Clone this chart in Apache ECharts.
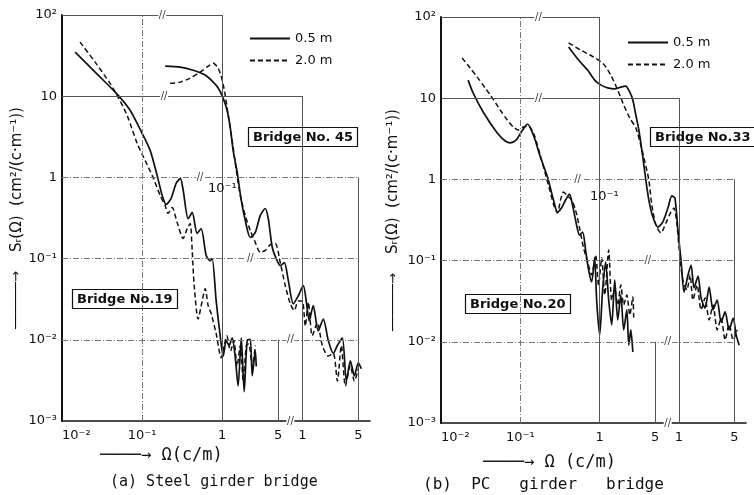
<!DOCTYPE html>
<html><head><meta charset="utf-8">
<script src="https://cdn.jsdelivr.net/npm/echarts@6/dist/echarts.min.js"></script>
<style>html,body{margin:0;padding:0;background:#fff}#c{width:754px;height:495px}</style>
</head><body><div id="c"></div>
<script>
// ---- tick values / labels ----
const xTicksA = [0.01, 0.1, 1, 5];
const xTickLabelsA = ['10⁻²', '10⁻¹', '1', '5'];
const xTicksB = [1, 5];
const xTickLabelsB = ['1', '5'];
const yTicks = [0.001, 0.01, 0.1, 1, 10, 100];
const yTickLabels = ['10⁻³', '10⁻²', '10⁻¹', '1', '10', '10²'];
const seriesNames = ['0.5 m', '2.0 m'];

// ---- (a) steel girder: Bridge No.19 (lower axis) ----
const b19_05 = [[0.0146,34.9],[0.0259,19.8],[0.0487,10.6],[0.0708,6.7],[0.1,3.49],[0.126,2.15],[0.154,1.06],[0.178,0.6],[0.2,0.464],[0.23,0.55],[0.266,0.843],[0.3,0.97],[0.326,0.69],[0.376,0.31],[0.422,0.37],[0.487,0.204],[0.546,0.234],[0.631,0.109],[0.708,0.094],[0.75,0.1],[0.841,0.03],[0.944,0.0112],[1.03,0.0063],[1.12,0.0098],[1.22,0.0085],[1.33,0.0106],[1.45,0.0063],[1.58,0.0027],[1.73,0.0106],[1.88,0.0023],[2.05,0.0098],[2.24,0.0101],[2.37,0.0036],[2.59,0.0073],[2.66,0.0047]];
const b19_20 = [[0.0168,46.4],[0.0259,26.3],[0.0398,14.4],[0.0487,10.3],[0.065,5.8],[0.0866,2.63],[0.109,1.62],[0.137,1.0],[0.168,0.6],[0.194,0.45],[0.211,0.36],[0.237,0.427],[0.274,0.278],[0.326,0.177],[0.365,0.234],[0.398,0.27],[0.422,0.126],[0.447,0.0464],[0.5,0.018],[0.562,0.03],[0.613,0.0427],[0.668,0.0263],[0.729,0.0209],[0.841,0.0119],[0.972,0.006],[1.06,0.0085],[1.14,0.0112],[1.27,0.0073],[1.4,0.0098],[1.53,0.0047],[1.68,0.0085],[1.83,0.0031],[2.0,0.0085],[2.15,0.0089],[2.37,0.0047],[2.59,0.0085]];
// ---- (a) Bridge No.45 (shifted axis) ----
const b45_05 = [[0.0194,23.4],[0.0299,22.8],[0.0434,20.9],[0.0613,18.2],[0.0772,14.9],[0.0891,12.6],[0.103,9.4],[0.115,6.7],[0.126,4.14],[0.137,2.15],[0.154,1.15],[0.173,0.52],[0.194,0.294],[0.224,0.182],[0.259,0.21],[0.299,0.34],[0.345,0.414],[0.376,0.31],[0.422,0.137],[0.473,0.1],[0.531,0.082],[0.596,0.089],[0.668,0.054],[0.772,0.0278],[0.891,0.0349],[1.03,0.0464],[1.12,0.03],[1.22,0.0172],[1.37,0.0263],[1.58,0.0129],[1.83,0.018],[2.11,0.0098],[2.44,0.0068],[2.74,0.0085],[3.16,0.0106],[3.55,0.0031],[3.98,0.0055],[4.47,0.0036],[5.0,0.0052],[5.46,0.0044]];
const b45_20 = [[0.0224,14.4],[0.0299,14.9],[0.0398,16.7],[0.0531,19.8],[0.0668,23.4],[0.0772,25.5],[0.0891,22.2],[0.1,15.8],[0.109,10.3],[0.119,5.8],[0.133,2.87],[0.15,1.22],[0.168,0.6],[0.194,0.34],[0.224,0.222],[0.259,0.158],[0.299,0.119],[0.345,0.126],[0.398,0.149],[0.46,0.153],[0.531,0.089],[0.613,0.0464],[0.708,0.0278],[0.794,0.0229],[0.891,0.03],[1.0,0.03],[1.09,0.0148],[1.19,0.029],[1.33,0.0112],[1.54,0.0162],[1.78,0.0085],[2.11,0.0063],[2.44,0.0068],[2.74,0.0031],[3.07,0.0085],[3.45,0.0027],[3.98,0.0048],[4.47,0.0031],[5.0,0.0044]];
// ---- (b) PC girder: Bridge No.20 ----
const b20_05 = [[0.022,16.7],[0.0254,11.6],[0.034,6.76],[0.0512,3.72],[0.0646,2.97],[0.0746,2.81],[0.0889,3.06],[0.103,3.84],[0.123,4.81],[0.146,3.52],[0.179,1.89],[0.22,1.07],[0.262,0.557],[0.294,0.397],[0.33,0.445],[0.372,0.557],[0.417,0.66],[0.455,0.484],[0.512,0.274],[0.558,0.206],[0.61,0.225],[0.665,0.135],[0.726,0.0766],[0.793,0.0545],[0.865,0.108],[0.916,0.0327],[1.0,0.0121],[1.09,0.0435],[1.19,0.096],[1.3,0.0327],[1.42,0.0161],[1.55,0.0577],[1.69,0.0186],[1.85,0.0377],[2.01,0.014],[2.2,0.0247],[2.33,0.0091],[2.47,0.014],[2.62,0.0075]];
const b20_20 = [[0.0185,31.3],[0.0233,23.5],[0.0286,18.2],[0.036,13.4],[0.0417,11.0],[0.0558,7.16],[0.0684,5.4],[0.0815,4.42],[0.0944,4.06],[0.109,4.42],[0.126,4.55],[0.15,3.52],[0.185,1.73],[0.226,0.853],[0.269,0.457],[0.294,0.386],[0.321,0.557],[0.35,0.7],[0.394,0.625],[0.443,0.557],[0.497,0.42],[0.558,0.252],[0.627,0.143],[0.705,0.096],[0.793,0.0665],[0.889,0.117],[0.97,0.05],[1.06,0.108],[1.16,0.0377],[1.3,0.135],[1.42,0.0327],[1.55,0.0435],[1.69,0.0284],[1.85,0.05],[2.01,0.0284],[2.2,0.0377],[2.4,0.0214],[2.62,0.0356],[2.69,0.0183]];
// ---- (b) Bridge No.33 (shifted axis) ----
const b33_05 = [[0.0406,42.7],[0.0542,29.5],[0.0705,22.2],[0.0865,16.7],[0.103,14.6],[0.126,13.4],[0.155,13.0],[0.185,13.7],[0.213,14.1],[0.24,11.9],[0.262,9.5],[0.286,6.21],[0.312,4.06],[0.35,1.89],[0.382,0.984],[0.417,0.557],[0.469,0.344],[0.542,0.259],[0.627,0.299],[0.726,0.445],[0.815,0.625],[0.889,0.59],[0.97,0.238],[1.06,0.102],[1.16,0.041],[1.3,0.0665],[1.42,0.0883],[1.55,0.046],[1.74,0.0645],[1.9,0.0347],[2.13,0.026],[2.4,0.0473],[2.69,0.0247],[3.03,0.0327],[3.4,0.0175],[3.82,0.0233],[4.29,0.014],[4.83,0.0196],[5.27,0.0121],[5.74,0.0091]];
const b33_20 = [[0.0406,47.9],[0.0574,39.3],[0.0839,32.1],[0.112,26.4],[0.138,19.3],[0.169,12.6],[0.201,8.24],[0.24,5.7],[0.286,4.29],[0.33,2.65],[0.372,1.64],[0.417,0.984],[0.455,0.484],[0.512,0.274],[0.592,0.219],[0.684,0.29],[0.793,0.397],[0.865,0.445],[0.944,0.274],[1.03,0.108],[1.12,0.0577],[1.26,0.0435],[1.38,0.0665],[1.5,0.0327],[1.69,0.05],[1.9,0.0247],[2.13,0.0347],[2.4,0.0186],[2.69,0.0284],[3.03,0.014],[3.4,0.0196],[3.82,0.0105],[4.29,0.0164],[4.83,0.0105],[5.42,0.014]];

const FONT = 'DejaVu Sans';
const MONO = 'DejaVu Sans Mono';
const INK = '#111';

function fmt(ticks, labels) {
  return function (v) {
    for (let i = 0; i < ticks.length; i++) {
      if (Math.abs(v - ticks[i]) <= ticks[i] * 1e-6) return labels[i];
    }
    return '';
  };
}

const panels = [
  { grid: { left: 62, top: 15, width: 308, height: 406 }, left: [b19_05, b19_20], right: [b45_05, b45_20],
    breaks: [[0.178,100],[0.188,10],[0.53,1],[2.24,0.1],[7.1,0.01],[7.1,0.001]], nameGap: 36 },
  { grid: { left: 441, top: 17, width: 305, height: 406 }, left: [b20_05, b20_20], right: [b33_05, b33_20],
    breaks: [[0.169,100],[0.169,10],[0.527,1],[4.05,0.1],[7.2,0.01],[7.2,0.001]], nameGap: 40 }
];

const grids = [], xAxes = [], yAxes = [], series = [];
panels.forEach(function (p, i) {
  grids.push(p.grid);
  const lbl = { fontFamily: FONT, fontSize: 13, color: INK, margin: 8 };
  xAxes.push({ type: 'log', logBase: 10, gridIndex: i, min: 0.01, max: 70, position: 'bottom',
    axisLine: { show: true, lineStyle: { color: INK, width: 1.6 } }, axisTick: { show: false }, splitLine: { show: false },
    axisLabel: Object.assign({ customValues: xTicksA, formatter: fmt(xTicksA, xTickLabelsA), alignMinLabel: 'left' }, lbl) });
  xAxes.push({ type: 'log', logBase: 10, gridIndex: i, min: 0.001, max: 7, position: 'bottom', offset: 0,
    axisLine: { show: false }, axisTick: { show: false }, splitLine: { show: false },
    axisLabel: Object.assign({ customValues: xTicksB, formatter: fmt(xTicksB, xTickLabelsB) }, lbl) });
  yAxes.push({ type: 'log', logBase: 10, gridIndex: i, min: 0.001, max: 100,
    name: '{a|──────→}    Sᵣ(Ω)  (cm²/(c·m⁻¹))', nameLocation: 'middle', nameRotate: 90, nameGap: p.nameGap,
    nameTextStyle: { fontFamily: FONT, fontSize: 15, color: INK, rich: { a: { fontFamily: FONT, fontSize: 13, color: INK } } },
    axisLine: { show: true, lineStyle: { color: INK, width: 2 } }, axisTick: { show: false }, splitLine: { show: false },
    axisLabel: { customValues: yTicks, formatter: fmt(yTicks, yTickLabels), fontFamily: FONT, fontSize: 13, color: INK, margin: 5 } });

  const xa = 2 * i, xb = 2 * i + 1;
  const solidL = { color: INK, width: 1.7, type: 'solid' };
  const dashL = { color: INK, width: 1.5, type: [5, 3] };
  const gl = { color: '#555', width: 1, type: 'solid' };
  const gd = { color: '#777', width: 1, type: [6, 2, 1, 2] };
  function seg(x1, y1, x2, y2, st) { return [{ coord: [x1, y1], lineStyle: st }, { coord: [x2, y2] }]; }
  // helper series: stepped frame / grid of the two overlaid diagrams
  series.push({ type: 'line', name: 'grid' + i, xAxisIndex: xa, yAxisIndex: i, data: [], silent: true, z: 1,
    markLine: { silent: true, symbol: ['none', 'none'], label: { show: false }, animation: false,
      emphasis: { disabled: true },
      data: [
        seg(0.01, 100, 1, 100, gl), seg(0.01, 10, 10, 10, gl), seg(0.01, 1, 50, 1, gd), seg(0.01, 0.1, 50, 0.1, gd),
        seg(0.01, 0.01, 50, 0.01, gd),
        seg(0.1, 0.001, 0.1, 100, gd), seg(1, 0.001, 1, 100, gl), seg(5, 0.001, 5, 0.01, gl),
        seg(10, 0.001, 10, 10, gl), seg(50, 0.001, 50, 1, gl)
      ] },
    markPoint: { silent: true, symbol: 'rect', symbolSize: [8, 9], itemStyle: { color: '#fff' },
      label: { show: true, position: 'inside', formatter: '//', fontSize: 10, color: '#333', fontFamily: FONT },
      data: p.breaks.map(function (b) { return { coord: b }; }) }
  });
  [[p.left, xa], [p.right, xb]].forEach(function (pair) {
    series.push({ type: 'line', name: seriesNames[0], xAxisIndex: pair[1], yAxisIndex: i, data: pair[0][0],
      symbol: 'none', showSymbol: false, smooth: 0.25, lineStyle: solidL, itemStyle: { color: INK }, z: 3 });
    series.push({ type: 'line', name: seriesNames[1], xAxisIndex: pair[1], yAxisIndex: i, data: pair[0][1],
      symbol: 'none', showSymbol: false, smooth: 0.25, lineStyle: dashL, itemStyle: { color: INK }, z: 3 });
  });
});

function box(text, left, top) {
  return { text: text, left: left, top: top, padding: [4, 5, 3, 5], borderColor: INK, borderWidth: 1.2,
    textStyle: { fontFamily: FONT, fontSize: 13, fontWeight: 'bold', color: INK } };
}
function plain(text, left, top, size, family) {
  return { text: text, left: left, top: top, padding: 0,
    textStyle: { fontFamily: family || FONT, fontSize: size, fontWeight: 'normal', color: INK } };
}

const legendBase = { orient: 'vertical', itemWidth: 40, itemHeight: 12, itemGap: 9, selectedMode: false,
  data: seriesNames, itemStyle: { opacity: 0, color: 'rgba(0,0,0,0)', borderWidth: 0 },
  textStyle: { fontFamily: FONT, fontSize: 13, color: INK } };

const option = {
  animation: false,
  backgroundColor: '#fff',
  grid: grids, xAxis: xAxes, yAxis: yAxes, series: series,
  legend: [Object.assign({ left: 244, top: 27 }, legendBase), Object.assign({ left: 622, top: 31 }, legendBase)],
  title: [
    box('Bridge No. 45', 248, 127), box('Bridge No.19', 72, 289),
    box('Bridge No.33', 650, 127), box('Bridge No.20', 465, 294),
    plain('10⁻¹', 208, 182, 13), plain('10⁻¹', 590, 190, 13),
    plain('────→ Ω(c/m)', 100, 447, 17, MONO), plain('────→ Ω (c/m)', 483, 454, 17, MONO),
    plain('(a) Steel girder bridge', 110, 475, 15, MONO), plain('(b)  PC   girder   bridge', 423, 477, 16, MONO)
  ]
};
const chart = echarts.init(document.getElementById('c'), null, { renderer: 'canvas' });
chart.setOption(option);
</script></body></html>
